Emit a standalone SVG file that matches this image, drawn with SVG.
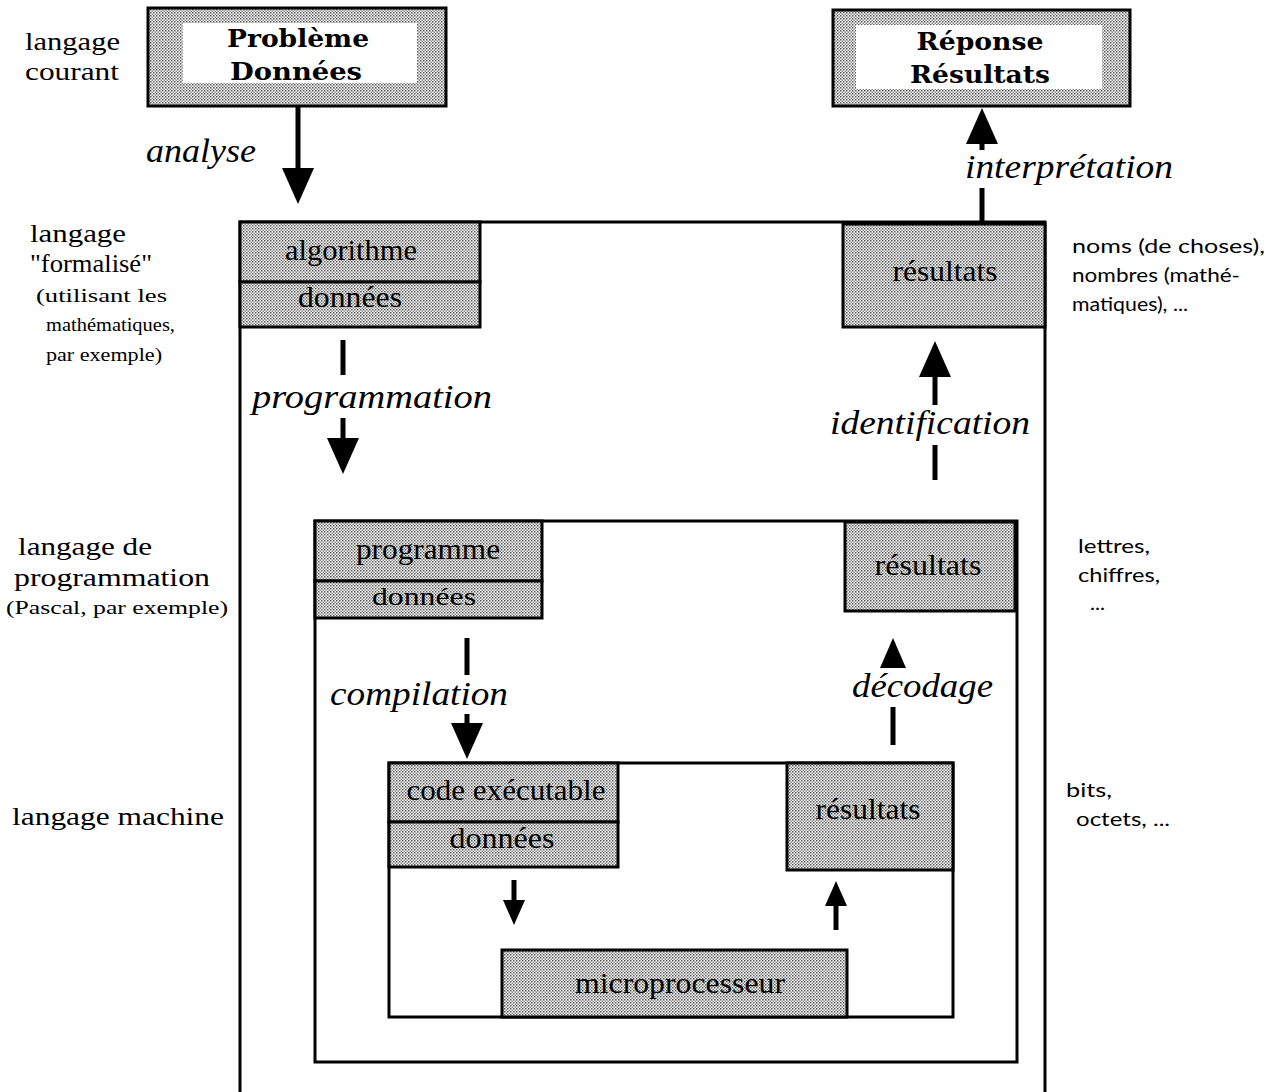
<svg xmlns="http://www.w3.org/2000/svg" width="1269" height="1092" viewBox="0 0 1269 1092">
<defs>
<pattern id="dots" width="3" height="3" patternUnits="userSpaceOnUse">
<rect width="3" height="3" fill="#ffffff"/>
<rect width="1.5" height="1.5" fill="#555555"/>
<rect x="1.5" y="1.5" width="1.5" height="1.5" fill="#888888"/>
</pattern>
<marker id="head" viewBox="0 0 36 32" refX="1" refY="16" markerWidth="36" markerHeight="32" markerUnits="userSpaceOnUse" orient="auto">
<path d="M0,0 L36,16 L0,32 Z" fill="#000"/>
</marker>
<marker id="headmd" viewBox="0 0 30 26" refX="1" refY="13" markerWidth="30" markerHeight="26" markerUnits="userSpaceOnUse" orient="auto">
<path d="M0,0 L30,13 L0,26 Z" fill="#000"/>
</marker>
<marker id="headsm" viewBox="0 0 25 22" refX="1" refY="11" markerWidth="25" markerHeight="22" markerUnits="userSpaceOnUse" orient="auto">
<path d="M0,0 L25,11 L0,22 Z" fill="#000"/>
</marker>
</defs>
<style>
.frame{fill:#fff;stroke:#000;stroke-width:3}
.cell{fill:url(#dots);stroke:#000;stroke-width:3}
.white{fill:#fff;stroke:none}
text{fill:#000}
.big{font-family:"DejaVu Serif","Liberation Serif",serif;font-weight:bold;font-size:25px;text-anchor:middle}
.box{font-family:"Liberation Serif",serif;font-size:29px;text-anchor:middle}
.boxs{font-family:"Liberation Serif",serif;font-size:26px;text-anchor:middle}
.it{font-family:"Liberation Serif",serif;font-style:italic;font-size:33px}
.lab{font-family:"Liberation Serif",serif;font-size:26px}
.sm{font-family:"Liberation Serif",serif;font-size:19px}
.rt{font-family:"Lato","Liberation Sans",sans-serif;font-size:19px}
.ln{stroke:#000;stroke-width:5;fill:none}
</style>

<g id="labels-left">
<text class="lab" x="25" y="50" textLength="95" lengthAdjust="spacingAndGlyphs">langage</text>
<text class="lab" x="25" y="80" textLength="94" lengthAdjust="spacingAndGlyphs">courant</text>
<text class="lab" x="30" y="242" textLength="96" lengthAdjust="spacingAndGlyphs">langage</text>
<text class="lab" x="30" y="272" textLength="122" lengthAdjust="spacingAndGlyphs">"formalisé"</text>
<text class="sm" x="36" y="302" textLength="131" lengthAdjust="spacingAndGlyphs">(utilisant  les</text>
<text class="sm" x="46" y="331" textLength="129" lengthAdjust="spacingAndGlyphs">mathématiques,</text>
<text class="sm" x="46" y="361" textLength="116" lengthAdjust="spacingAndGlyphs">par exemple)</text>
<text class="lab" x="18" y="555" textLength="134" lengthAdjust="spacingAndGlyphs">langage de</text>
<text class="lab" x="14" y="586" textLength="196" lengthAdjust="spacingAndGlyphs">programmation</text>
<text class="sm" x="6" y="614" textLength="222" lengthAdjust="spacingAndGlyphs">(Pascal,  par exemple)</text>
<text class="lab" x="12" y="825" textLength="212" lengthAdjust="spacingAndGlyphs">langage machine</text>
</g>

<g id="labels-right">
<text class="rt" x="1072" y="253" textLength="193" lengthAdjust="spacingAndGlyphs">noms (de choses),</text>
<text class="rt" x="1072" y="282" textLength="168" lengthAdjust="spacingAndGlyphs">nombres (mathé-</text>
<text class="rt" x="1072" y="311" textLength="116" lengthAdjust="spacingAndGlyphs">matiques), ...</text>
<text class="rt" x="1078" y="553" textLength="72" lengthAdjust="spacingAndGlyphs">lettres,</text>
<text class="rt" x="1078" y="582" textLength="82" lengthAdjust="spacingAndGlyphs">chiffres,</text>
<text class="rt" x="1090" y="610" textLength="15" lengthAdjust="spacingAndGlyphs">...</text>
<text class="rt" x="1066" y="797" textLength="46" lengthAdjust="spacingAndGlyphs">bits,</text>
<text class="rt" x="1076" y="826" textLength="94" lengthAdjust="spacingAndGlyphs">octets, ...</text>
</g>

<g id="probleme">
<rect class="cell" x="148" y="8" width="298" height="98"/>
<rect class="white" x="183" y="23" width="234" height="60"/>
<text class="big" x="298" y="47" textLength="142" lengthAdjust="spacingAndGlyphs">Problème</text>
<text class="big" x="296" y="80" textLength="132" lengthAdjust="spacingAndGlyphs">Données</text>
</g>

<g id="reponse">
<rect class="cell" x="833" y="10" width="297" height="96"/>
<rect class="white" x="856" y="25" width="246" height="64"/>
<text class="big" x="980" y="50" textLength="127" lengthAdjust="spacingAndGlyphs">Réponse</text>
<text class="big" x="980" y="83" textLength="140" lengthAdjust="spacingAndGlyphs">Résultats</text>
</g>

<g id="niveau-formalise">
<rect class="frame" x="240" y="222" width="805" height="880"/>
</g>

<g id="algorithme">
<rect class="cell" x="240" y="222" width="240" height="60"/>
<rect class="cell" x="240" y="282" width="240" height="45"/>
<text class="box" x="351" y="260" textLength="132" lengthAdjust="spacingAndGlyphs">algorithme</text>
<text class="box" x="350" y="307" textLength="104" lengthAdjust="spacingAndGlyphs">données</text>
</g>

<g id="resultats-1">
<rect class="cell" x="843" y="224" width="202" height="103"/>
<text class="box" x="945" y="281" textLength="105" lengthAdjust="spacingAndGlyphs">résultats</text>
</g>

<g id="niveau-programmation">
<rect class="frame" x="315" y="521" width="702" height="541"/>
</g>

<g id="programme">
<rect class="cell" x="315" y="521" width="227" height="60"/>
<rect class="cell" x="315" y="581" width="227" height="37"/>
<text class="box" x="428" y="559" textLength="144" lengthAdjust="spacingAndGlyphs">programme</text>
<text class="boxs" x="424" y="605" textLength="104" lengthAdjust="spacingAndGlyphs">données</text>
</g>

<g id="resultats-2">
<rect class="cell" x="845" y="522" width="170" height="89"/>
<text class="box" x="928" y="575" textLength="107" lengthAdjust="spacingAndGlyphs">résultats</text>
</g>

<g id="niveau-machine">
<rect class="frame" x="389" y="763" width="564" height="254"/>
</g>

<g id="code">
<rect class="cell" x="389" y="763" width="229" height="59"/>
<rect class="cell" x="389" y="822" width="229" height="45"/>
<text class="box" x="506" y="800" textLength="199" lengthAdjust="spacingAndGlyphs">code exécutable</text>
<text class="box" x="502" y="848" textLength="105" lengthAdjust="spacingAndGlyphs">données</text>
</g>

<g id="resultats-3">
<rect class="cell" x="787" y="763" width="166" height="107"/>
<text class="box" x="868" y="819" textLength="105" lengthAdjust="spacingAndGlyphs">résultats</text>
</g>

<g id="microprocesseur">
<rect class="cell" x="502" y="950" width="345" height="67"/>
<text class="box" x="680" y="993" textLength="210" lengthAdjust="spacingAndGlyphs">microprocesseur</text>
</g>

<g id="connectors">
<line class="ln" x1="298" y1="106" x2="298" y2="169" marker-end="url(#head)"/>
<text class="it" x="146" y="162" textLength="110" lengthAdjust="spacingAndGlyphs">analyse</text>

<line class="ln" x1="982" y1="222" x2="982" y2="188"/>
<line class="ln" x1="982" y1="150" x2="982" y2="143" marker-end="url(#head)"/>
<text class="it" x="965" y="178" textLength="208" lengthAdjust="spacingAndGlyphs">interprétation</text>

<line class="ln" x1="343" y1="340" x2="343" y2="375"/>
<line class="ln" x1="343" y1="418" x2="343" y2="439" marker-end="url(#head)"/>
<text class="it" x="252" y="408" textLength="240" lengthAdjust="spacingAndGlyphs">programmation</text>

<line class="ln" x1="935" y1="480" x2="935" y2="445"/>
<line class="ln" x1="935" y1="405" x2="935" y2="376" marker-end="url(#head)"/>
<text class="it" x="830" y="434" textLength="200" lengthAdjust="spacingAndGlyphs">identification</text>

<line class="ln" x1="467" y1="638" x2="467" y2="675"/>
<line class="ln" x1="467" y1="714" x2="467" y2="724" marker-end="url(#head)"/>
<text class="it" x="330" y="705" textLength="178" lengthAdjust="spacingAndGlyphs">compilation</text>

<line class="ln" x1="893" y1="745" x2="893" y2="707"/>
<line class="ln" x1="893" y1="668" x2="893" y2="667" marker-end="url(#headmd)"/>
<text class="it" x="852" y="697" textLength="141" lengthAdjust="spacingAndGlyphs">décodage</text>

<line class="ln" x1="514" y1="880" x2="514" y2="901" stroke-width="4" marker-end="url(#headsm)"/>
<line class="ln" x1="836" y1="930" x2="836" y2="905" stroke-width="4" marker-end="url(#headsm)"/>
</g>
</svg>
